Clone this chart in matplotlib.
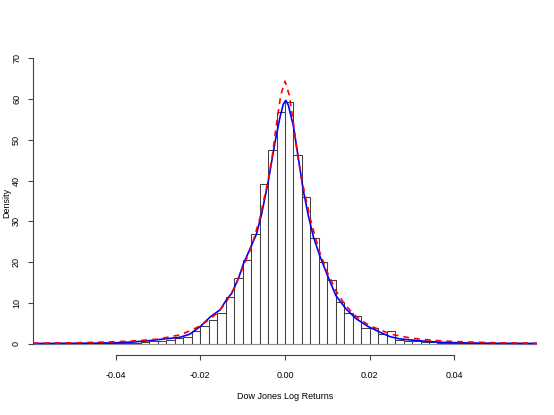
import numpy as np
import matplotlib
matplotlib.use("Agg")
import matplotlib.pyplot as plt

# histogram of log returns, bins of width 0.002 from -0.06 to 0.06
bin_edges = np.round(np.arange(-0.060, 0.0601, 0.002), 4)
bin_heights = [
    0.05, 0.05, 0.0, 0.05, 0.05, 0.05, 0.1, 0.1, 0.1, 0.1,
    0.1, 0.15, 0.2, 0.3, 0.6, 0.7, 0.9, 1.4, 1.7, 3.2,
    4.3, 5.7, 7.5, 11.4, 16.1, 20.6, 26.8, 39.2, 47.4, 56.8,
    59.2, 46.2, 36.0, 25.8, 20.0, 15.5, 10.3, 7.5, 6.7, 3.9,
    3.9, 2.4, 3.0, 1.0, 0.6, 0.6, 0.3, 0.3, 0.15, 0.1,
    0.1, 0.1, 0.05, 0.05, 0.05, 0.0, 0.05, 0.0, 0.0, 0.05,
]

# kernel density (blue, solid)
kde_x = [-0.0595, -0.050, -0.045, -0.040, -0.036, -0.032, -0.028, -0.025,
         -0.0225, -0.020, -0.0177, -0.016, -0.0153, -0.0138, -0.0126, -0.011,
         -0.0098, -0.0079, -0.0067, -0.0055, -0.0039, -0.0024, -0.0012, -0.0004,
         0.0002, 0.0008, 0.002, 0.0031, 0.0043, 0.0055, 0.0067, 0.0083,
         0.0102, 0.012, 0.0144, 0.0168, 0.0196, 0.0224, 0.0248, 0.0271,
         0.0295, 0.0334, 0.037, 0.0436, 0.050, 0.0595]
kde_y = [0.03, 0.07, 0.1, 0.2, 0.38, 0.72, 1.2, 1.5,
         2.3, 4.2, 6.5, 7.8, 8.3, 10.8, 12.3, 16.0,
         19.6, 24.1, 27.0, 31.9, 40.1, 49.2, 55.5, 58.8,
         59.7, 58.5, 53.3, 45.9, 37.7, 31.5, 26.2, 21.3,
         16.3, 11.8, 8.5, 6.1, 4.2, 2.8, 1.7, 1.15,
         0.9, 0.57, 0.3, 0.15, 0.07, 0.03]

# fitted density (red, dashed)
fit_x = [-0.0595, -0.050, -0.040, -0.035, -0.030, -0.025, -0.022, -0.020,
         -0.018, -0.016, -0.014, -0.012, -0.010, -0.008, -0.006, -0.004,
         -0.003, -0.002, -0.001, 0.0, 0.001, 0.002, 0.003, 0.004,
         0.006, 0.008, 0.010, 0.012, 0.014, 0.016, 0.018, 0.020,
         0.025, 0.030, 0.035, 0.040, 0.050, 0.0595]
fit_y = [0.1, 0.2, 0.45, 0.7, 1.1, 2.1, 3.3, 4.4,
         5.8, 7.5, 10.0, 13.5, 18.5, 23.5, 30.5, 40.0,
         46.0, 54.0, 61.0, 64.4, 61.0, 54.0, 46.0, 40.0,
         30.5, 23.0, 17.5, 13.0, 9.8, 7.4, 5.7, 4.4,
         2.3, 1.3, 0.8, 0.5, 0.2, 0.1]

x_ticks = [-0.04, -0.02, 0.00, 0.02, 0.04]
y_ticks = [0, 10, 20, 30, 40, 50, 60, 70]

font = ['Liberation Sans Narrow', 'Liberation Sans', 'DejaVu Sans']
plt.rcParams['font.family'] = font

W, H = 554, 415
fig = plt.figure(figsize=(W / 100, H / 100), dpi=100)
ax = fig.add_axes([33 / W, 1 - 355 / H, 504 / W, 308 / H])

ax.bar(bin_edges[:-1], bin_heights, width=0.002, align='edge',
       facecolor='white', edgecolor='#404040', linewidth=0.75)
ax.axhline(0, color='#909090', linewidth=0.8, zorder=1)
ax.plot(kde_x, kde_y, color='blue', linewidth=1.2)
ax.plot(fit_x, fit_y, color='red', linewidth=1.2, linestyle=(0, (3.5, 3)))

ax.set_xlim(-0.0595, 0.0595)
ax.set_ylim(-2.8, 72.8)

for side in ['top', 'right']:
    ax.spines[side].set_visible(False)
ax.spines['bottom'].set_bounds(-0.04, 0.04)
ax.spines['left'].set_bounds(0, 70)
for side in ['bottom', 'left']:
    ax.spines[side].set_color('#444444')
    ax.spines[side].set_linewidth(0.8)

ax.set_xticks(x_ticks)
ax.set_xticklabels(['%.2f' % v for v in x_ticks])
ax.set_yticks(y_ticks)
ax.set_yticklabels([str(v) for v in y_ticks], rotation=90, va='center')
ax.tick_params(axis='both', length=3.6, width=0.8, color='#444444',
               labelsize=6.5)
ax.tick_params(axis='x', pad=8)
ax.tick_params(axis='y', pad=5)

fig.text(285.5 / W, 1 - 396.5 / H, 'Dow Jones Log Returns',
         ha='center', va='center', fontsize=6.5)
fig.text(7 / W, 1 - 203 / H, 'Density', rotation=90,
         ha='center', va='center', fontsize=6.5)

fig.savefig('out.png', dpi=100)
